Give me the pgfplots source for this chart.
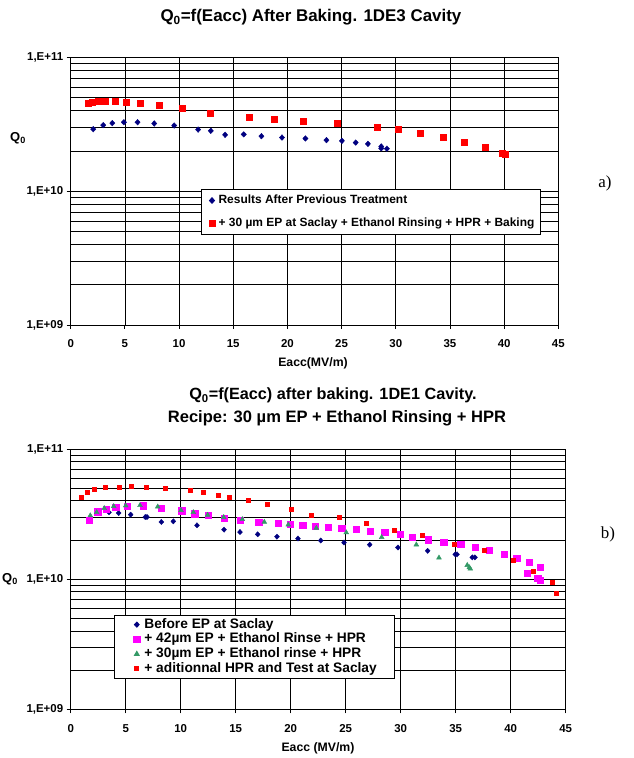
\documentclass[border=0pt]{standalone}
\usepackage{fontspec}
\setmainfont{Liberation Sans}
\newfontfamily\serif{Liberation Serif}
\usepackage{pgfplots}
\pgfplotsset{compat=1.18}

\definecolor{navy}{RGB}{0,0,128}
\definecolor{seagreen}{RGB}{51,153,102}
\definecolor{pinkmag}{RGB}{255,0,255}
\definecolor{pured}{RGB}{255,0,0}

% single-mark legend images with some room around the mark
\pgfplotsset{
  dotlegA/.style={legend image code/.code={\path (-5.5bp,0bp) (5.5bp,0bp); \draw[##1] plot coordinates {(0bp,0bp)};}},
  dotlegB/.style={legend image code/.code={\path (-6bp,0bp) (6bp,0bp); \draw[##1] plot coordinates {(0bp,0bp)};}},
}

\begin{document}
\begin{tikzpicture}
\path[use as bounding box] (0bp,0bp) rectangle (634bp,758bp);

% ---- a) 1DE3 ----
\node[anchor=base, font=\bfseries\fontsize{17}{19}\selectfont] at (311bp,736.3bp) {Q\textsubscript{0}=f(Eacc) After Baking. 1DE3 Cavity};
\node[anchor=base, font=\bfseries\fontsize{12.3}{14}\selectfont] at (313bp,391.5bp) {Eacc(MV/m)};
\node[font=\bfseries\fontsize{13}{15}\selectfont] at (18bp,620bp) {Q\textsubscript{0}};
\node[font=\serif\fontsize{17}{19}\selectfont] at (605bp,575bp) {a)};

\begin{axis}[at={(70.7bp,433bp)}, anchor=south west, scale only axis, width=487.6bp, height=267.5bp,
  xmin=0, xmax=45, xtick={0,5,...,45},
  ymode=log, ymin=1e9, ymax=1e11,
  ytick={1e9,1e10,1e11},
  yticklabels={{1,E+09},{1,E+10},{1,E+11}},
  minor ytick={2e9,3e9,4e9,5e9,6e9,7e9,8e9,9e9,2e10,3e10,4e10,5e10,6e10,7e10,8e10,9e10},
  xmajorgrids, ymajorgrids, yminorgrids,
  grid style={black, line width=0.65bp},
  minor grid style={black, line width=0.65bp},
  axis line style={black, line width=0.8bp},
  tick align=outside, tick pos=left,
  major tick length=4bp, minor tick length=0pt,
  tick style={black, line width=0.8bp},
  tick label style={font=\bfseries\fontsize{11.5}{13}\selectfont},
  xticklabel style={yshift=-7.5bp},
  /pgf/number format/assume math mode=true,
  legend cell align=left,
  legend style={at={(0.2666,0.5084)}, anchor=north west, draw=black, line width=0.8bp,
    inner xsep=5bp, inner ysep=5.6bp, row sep=11.9bp,
    font=\bfseries\fontsize{12}{14}\selectfont,
    nodes={inner xsep=0.7bp, inner ysep=0bp, text height=8.6bp, text depth=2.5bp}}]
\addplot[only marks, mark=diamond*, mark size=2.8bp, mark options={xscale=1.25}, color=navy, dotlegA] coordinates {
(2.08,2.91e10) (3.0,3.12e10) (3.84,3.23e10) (4.91,3.28e10) (6.17,3.28e10) (7.71,3.21e10)
(9.55,3.10e10) (11.76,2.89e10) (12.93,2.83e10) (14.25,2.64e10) (15.97,2.66e10) (17.6,2.58e10)
(19.5,2.52e10) (21.66,2.48e10) (23.6,2.41e10) (25.03,2.38e10) (26.3,2.31e10) (27.43,2.26e10)
(28.66,2.16e10) (28.66,2.09e10) (29.18,2.08e10)};
\addlegendentry{Results After Previous Treatment}
\addplot[only marks, mark=square*, mark size=3bp, color=pured, dotlegA] coordinates {
(1.63,4.56e10) (1.99,4.62e10) (2.54,4.70e10) (3.22,4.72e10) (4.08,4.72e10) (5.13,4.67e10)
(6.45,4.56e10) (8.14,4.39e10) (10.26,4.16e10) (12.9,3.86e10) (16.5,3.60e10) (18.76,3.48e10)
(21.44,3.36e10) (24.6,3.25e10) (28.29,3.01e10) (30.26,2.89e10) (32.26,2.72e10) (34.34,2.52e10)
(36.34,2.33e10) (38.25,2.12e10) (39.84,1.91e10) (40.12,1.89e10)};
\addlegendentry{+ 30 µm EP at Saclay + Ethanol Rinsing + HPR + Baking}
\end{axis}

% ---- b) 1DE1 ----
\node[anchor=base, font=\bfseries\fontsize{16.3}{18}\selectfont] at (333bp,358bp) {Q\textsubscript{0}=f(Eacc) after baking. 1DE1 Cavity.};
\node[anchor=base, font=\bfseries\fontsize{16.6}{18}\selectfont] at (337bp,335bp) {Recipe: 30 µm EP + Ethanol Rinsing + HPR};
\node[anchor=base, font=\bfseries\fontsize{12.3}{14}\selectfont] at (318bp,7bp) {Eacc (MV/m)};
\node[font=\bfseries\fontsize{13}{15}\selectfont] at (10bp,179bp) {Q\textsubscript{0}};
\node[font=\serif\fontsize{17}{19}\selectfont] at (608bp,224bp) {b)};

\begin{axis}[at={(70.7bp,48.7bp)}, anchor=south west, scale only axis, width=495bp, height=260.3bp,
  xmin=0, xmax=45, xtick={0,5,...,45},
  ymode=log, ymin=1e9, ymax=1e11,
  ytick={1e9,1e10,1e11},
  yticklabels={{1,E+09},{1,E+10},{1,E+11}},
  minor ytick={2e9,3e9,4e9,5e9,6e9,7e9,8e9,9e9,2e10,3e10,4e10,5e10,6e10,7e10,8e10,9e10},
  xmajorgrids, ymajorgrids, yminorgrids,
  grid style={black, line width=0.65bp},
  minor grid style={black, line width=0.65bp},
  axis line style={black, line width=0.8bp},
  tick align=outside, tick pos=left,
  major tick length=4bp, minor tick length=0pt,
  tick style={black, line width=0.8bp},
  tick label style={font=\bfseries\fontsize{11.5}{13}\selectfont},
  xticklabel style={yshift=-8bp},
  /pgf/number format/assume math mode=true,
  legend cell align=left,
  legend style={at={(0.0875,0.3623)}, anchor=north west, draw=black, line width=0.8bp,
    inner xsep=16bp, inner ysep=2.9bp, row sep=2.0bp,
    font=\bfseries\fontsize{13.8}{15}\selectfont,
    nodes={inner xsep=1.2bp, inner ysep=0bp, text height=9.8bp, text depth=2.9bp}}]
\addplot[only marks, mark=diamond*, mark size=2.6bp, mark options={xscale=1.25}, color=navy, dotlegB] coordinates {
(3.48,3.26e10) (4.36,3.22e10) (5.45,3.13e10) (6.78,3.0e10) (6.94,3.0e10) (8.24,2.75e10)
(9.33,2.78e10) (11.48,2.59e10) (13.94,2.40e10) (15.39,2.30e10) (17.0,2.21e10) (18.75,2.12e10)
(20.66,2.05e10) (22.73,1.98e10) (24.85,1.91e10) (27.18,1.84e10) (29.75,1.75e10) (32.45,1.65e10)
(34.96,1.55e10) (35.12,1.55e10) (36.51,1.47e10) (36.75,1.47e10)};
\addlegendentry{Before EP at Saclay}
\addplot[only marks, mark=square*, mark size=3.1bp, color=pinkmag, dotlegB] coordinates {
(1.66,2.83e10) (2.45,3.30e10) (3.21,3.44e10) (4.09,3.57e10) (5.15,3.63e10) (6.57,3.67e10)
(8.24,3.50e10) (10.09,3.36e10) (11.27,3.18e10) (12.51,3.10e10) (13.94,2.95e10) (15.39,2.84e10)
(17.09,2.75e10) (18.87,2.69e10) (19.96,2.64e10) (21.09,2.61e10) (22.21,2.56e10) (23.42,2.52e10)
(24.64,2.46e10) (25.94,2.42e10) (27.21,2.34e10) (28.55,2.28e10) (29.96,2.21e10) (31.05,2.10e10)
(32.51,2.01e10) (33.91,1.93e10) (35.45,1.86e10) (36.75,1.76e10) (38.05,1.67e10) (39.42,1.56e10)
(40.54,1.45e10) (41.66,1.35e10) (42.66,1.23e10) (41.51,1.11e10) (42.45,1.02e10) (42.69,9.8e9)};
\addlegendentry{+ 42µm EP + Ethanol Rinse + HPR}
\addplot[only marks, mark=triangle*, mark size=2.8bp, color=seagreen, dotlegB] coordinates {
(1.78,3.08e10) (2.36,3.26e10) (3.05,3.50e10) (3.91,3.63e10) (5.0,3.67e10) (6.3,3.69e10)
(7.91,3.60e10) (10.03,3.38e10) (11.15,3.26e10) (12.45,3.11e10) (13.91,2.99e10) (15.6,2.88e10)
(17.6,2.75e10) (19.78,2.62e10) (22.33,2.47e10) (25.05,2.28e10) (28.27,2.10e10) (31.42,1.84e10)
(33.48,1.46e10) (36.05,1.28e10) (36.24,1.23e10) (36.33,1.20e10)};
\addlegendentry{+ 30µm EP + Ethanol rinse + HPR}
\addplot[only marks, mark=square*, mark size=2bp, color=pured, dotlegB] coordinates {
(0.91,4.26e10) (1.51,4.62e10) (2.18,4.90e10) (3.12,5.05e10) (4.39,5.05e10) (5.48,5.20e10)
(6.87,5.08e10) (8.6,4.99e10) (10.87,4.79e10) (12.03,4.62e10) (13.45,4.41e10) (14.45,4.26e10)
(16.15,4.01e10) (17.9,3.78e10) (20.03,3.47e10) (21.82,3.11e10) (24.42,2.97e10) (26.87,2.71e10)
(29.45,2.37e10) (31.94,2.16e10) (34.85,1.87e10) (37.57,1.67e10) (40.24,1.40e10) (42.05,1.16e10)
(43.78,9.55e9) (44.12,7.83e9)};
\addlegendentry{+ aditionnal HPR and Test at Saclay}
\end{axis}
\end{tikzpicture}
\end{document}
